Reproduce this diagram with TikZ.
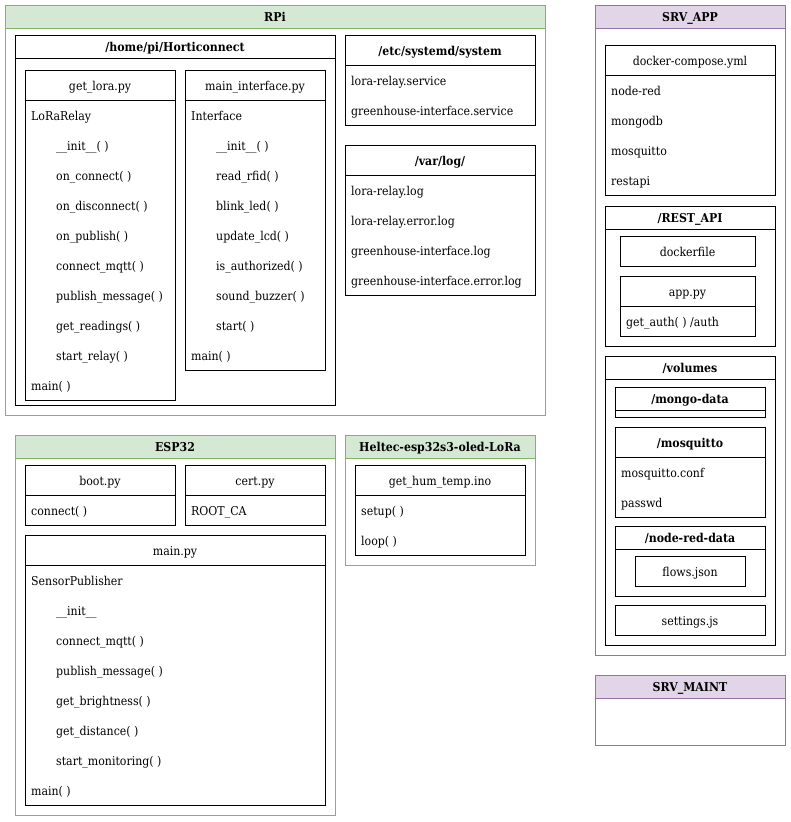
\documentclass[tikz,border=0pt]{standalone}
\usepackage{fontspec}
\setmainfont{DejaVu Serif Condensed}
\definecolor{gfill}{HTML}{D5E8D4}
\definecolor{gline}{HTML}{82B366}
\definecolor{pfill}{HTML}{E1D5E7}
\definecolor{pline}{HTML}{9673A6}
\newcommand\hdrbox[7]{%
  \draw[bx] (#1,#2) rectangle (#3,#4) (#1,#5) -- (#3,#5);
  \node[lbl,anchor=base] (#7) at ({(#1+#3)/2},{(#2+#5)/2+5}) {#6};}
\newcommand\plainbox[6]{%
  \draw[bx] (#1,#2) rectangle (#3,#4);
  \node[lbl,anchor=base] (#6) at ({(#1+#3)/2},{(#2+#4)/2+5}) {#5};}
\newcommand\contbox[8]{%
  \draw[#8line] (#1,#2) rectangle (#3,#4);
  \draw[#8line,fill=#8fill] (#1,#2) rectangle (#3,#5);
  \node[lbl,font=\tfont\bfseries,anchor=base] (#7) at ({(#1+#3)/2},{(#2+#5)/2+4.5}) {#6};}
\newcommand\itm[4]{\node[lbl,anchor=base west] (#1) at (#2,#3+5.5) {#4};}
\newcommand\tfont{\fontsize{12.2}{14}\selectfont}
\begin{document}
\begin{tikzpicture}[x=1pt,y=-1pt,
  bx/.style={draw=black,line width=1pt},
  gline/.style={draw=gline,line width=1pt},
  pline/.style={draw=pline,line width=1pt},
  lbl/.style={font=\tfont,inner sep=0pt}]
\useasboundingbox[fill=white] (0,0) rectangle (791,822);

% ---------- RPi ----------
\contbox{5}{5}{545}{415}{28}{RPi}{rpi}{g}
\hdrbox{15}{35}{335}{405}{58}{\bfseries /home/pi/Horticonnect}{horti}
\hdrbox{25}{70}{175}{400}{100}{get\_lora.py}{getlora}
\itm{gl1}{31}{115}{LoRaRelay}
\itm{gl2}{56}{145}{\_\_init\_\_( )}
\itm{gl3}{56}{175}{on\_connect( )}
\itm{gl4}{56}{205}{on\_disconnect( )}
\itm{gl5}{56}{235}{on\_publish( )}
\itm{gl6}{56}{265}{connect\_mqtt( )}
\itm{gl7}{56}{295}{publish\_message( )}
\itm{gl8}{56}{325}{get\_readings( )}
\itm{gl9}{56}{355}{start\_relay( )}
\itm{gl10}{31}{385}{main( )}
\hdrbox{185}{70}{325}{370}{100}{main\_interface.py}{mainif}
\itm{mi1}{191}{115}{Interface}
\itm{mi2}{216}{145}{\_\_init\_\_( )}
\itm{mi3}{216}{175}{read\_rfid( )}
\itm{mi4}{216}{205}{blink\_led( )}
\itm{mi5}{216}{235}{update\_lcd( )}
\itm{mi6}{216}{265}{is\_authorized( )}
\itm{mi7}{216}{295}{sound\_buzzer( )}
\itm{mi8}{216}{325}{start( )}
\itm{mi9}{191}{355}{main( )}
\hdrbox{345}{35}{535}{125}{65}{\bfseries /etc/systemd/system}{systemd}
\itm{sd1}{351}{80}{lora-relay.service}
\itm{sd2}{351}{110}{greenhouse-interface.service}
\hdrbox{345}{145}{535}{295}{175}{\bfseries /var/log/}{varlog}
\itm{vl1}{351}{190}{lora-relay.log}
\itm{vl2}{351}{220}{lora-relay.error.log}
\itm{vl3}{351}{250}{greenhouse-interface.log}
\itm{vl4}{351}{280}{greenhouse-interface.error.log}

% ---------- ESP32 ----------
\contbox{15}{435}{335}{815}{458}{ESP32}{esp}{g}
\hdrbox{25}{465}{175}{525}{495}{boot.py}{boot}
\itm{bt1}{31}{510}{connect( )}
\hdrbox{185}{465}{325}{525}{495}{cert.py}{cert}
\itm{ct1}{191}{510}{ROOT\_CA}
\hdrbox{25}{535}{325}{805}{565}{main.py}{mainpy}
\itm{mp1}{31}{580}{SensorPublisher}
\itm{mp2}{56}{610}{\_\_init\_\_}
\itm{mp3}{56}{640}{connect\_mqtt( )}
\itm{mp4}{56}{670}{publish\_message( )}
\itm{mp5}{56}{700}{get\_brightness( )}
\itm{mp6}{56}{730}{get\_distance( )}
\itm{mp7}{56}{760}{start\_monitoring( )}
\itm{mp8}{31}{790}{main( )}

% ---------- Heltec ----------
\contbox{345}{435}{535}{565}{458}{Heltec-esp32s3-oled-LoRa}{heltec}{g}
\hdrbox{355}{465}{525}{555}{495}{get\_hum\_temp.ino}{ghtino}
\itm{ht1}{361}{510}{setup( )}
\itm{ht2}{361}{540}{loop( )}

% ---------- SRV_APP ----------
\contbox{595}{5}{785}{655}{28}{SRV\_APP}{srvapp}{p}
\hdrbox{605}{45}{775}{195}{75}{docker-compose.yml}{dcompose}
\itm{dc1}{611}{90}{node-red}
\itm{dc2}{611}{120}{mongodb}
\itm{dc3}{611}{150}{mosquitto}
\itm{dc4}{611}{180}{restapi}
\hdrbox{605}{206}{775}{346}{229}{\bfseries /REST\_API}{restapi}
\plainbox{620}{236}{755}{266}{dockerfile}{dockerfile}
\hdrbox{620}{276}{755}{336}{306}{app.py}{apppy}
\itm{ap1}{626}{321}{get\_auth( ) /auth}
\hdrbox{605}{356}{775}{645}{379}{\bfseries /volumes}{volumes}
\hdrbox{615}{387}{765}{417}{410}{\bfseries /mongo-data}{mongodata}
\hdrbox{615}{427}{765}{517}{457}{\bfseries /mosquitto}{mosq}
\itm{mq1}{621}{472}{mosquitto.conf}
\itm{mq2}{621}{502}{passwd}
\hdrbox{615}{526}{765}{596}{549}{\bfseries /node-red-data}{nrdata}
\plainbox{635}{556}{745}{586}{flows.json}{flows}
\plainbox{615}{605}{765}{635}{settings.js}{settings}

% ---------- SRV_MAINT ----------
\contbox{595}{675}{785}{745}{698}{SRV\_MAINT}{srvmaint}{p}
\end{tikzpicture}
\end{document}
